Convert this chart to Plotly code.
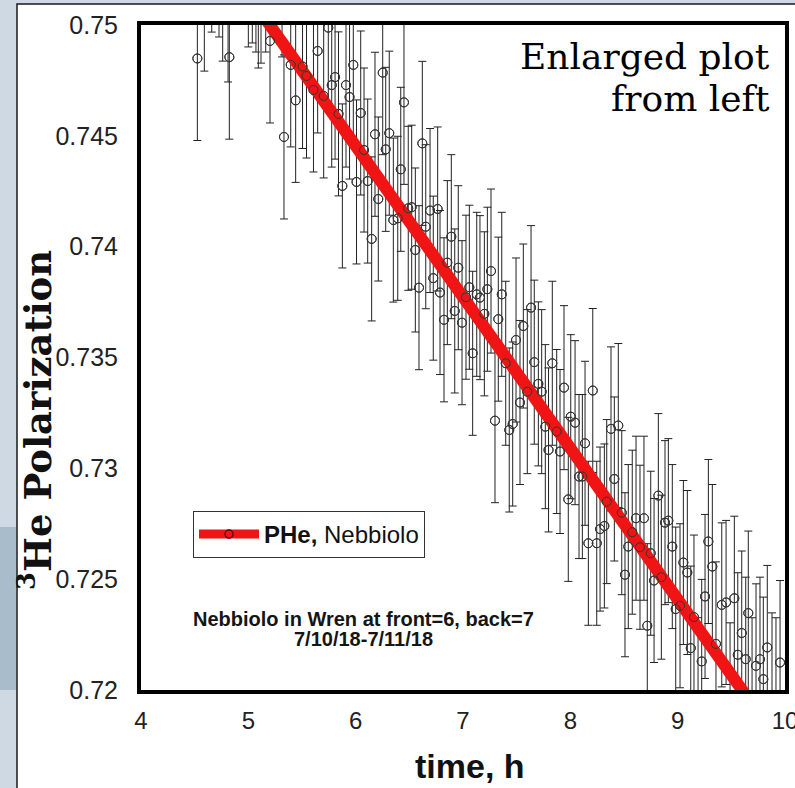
import plotly.graph_objects as go

# ---- data ----
time_h = [4.525, 4.590, 4.659, 4.727, 4.761, 4.811, 4.823, 5.000, 5.037, 5.071,
          5.093, 5.118, 5.162, 5.202, 5.314, 5.332, 5.395, 5.441, 5.505, 5.542,
          5.607, 5.646, 5.702, 5.745, 5.777, 5.808, 5.840, 5.876, 5.910, 5.943,
          5.978, 6.008, 6.047, 6.078, 6.112, 6.149, 6.180, 6.211, 6.252, 6.280,
          6.313, 6.351, 6.392, 6.420, 6.450, 6.490, 6.522, 6.556, 6.590, 6.621,
          6.653, 6.693, 6.723, 6.764, 6.786, 6.823, 6.854, 6.891, 6.923, 6.956,
          6.991, 7.028, 7.059, 7.090, 7.128, 7.158, 7.199, 7.227, 7.261, 7.298,
          7.329, 7.361, 7.398, 7.431, 7.463, 7.494, 7.531, 7.562, 7.599, 7.634,
          7.664, 7.702, 7.733, 7.767, 7.797, 7.832, 7.873, 7.904, 7.941, 7.981,
          8.004, 8.044, 8.081, 8.112, 8.137, 8.168, 8.209, 8.246, 8.277, 8.317,
          8.339, 8.379, 8.410, 8.447, 8.479, 8.509, 8.540, 8.577, 8.612, 8.649,
          8.686, 8.717, 8.749, 8.780, 8.820, 8.848, 8.882, 8.913, 8.950, 8.982,
          9.022, 9.053, 9.090, 9.122, 9.152, 9.190, 9.224, 9.255, 9.286, 9.323,
          9.357, 9.411, 9.451, 9.488, 9.528, 9.560, 9.597, 9.634, 9.658, 9.693,
          9.730, 9.767, 9.798, 9.835, 9.879, 9.916, 9.954]

polarization = [0.74849, 0.75162, 0.75338, 0.75316, 0.75207, 0.75113, 0.74855, 0.75271, 0.75289, 0.75248,
                0.75176, 0.75198, 0.75248, 0.74928, 0.75226, 0.74495, 0.74820, 0.74660, 0.74813, 0.74770,
                0.74707, 0.74883, 0.74680, 0.74988, 0.74729, 0.74765, 0.74599, 0.74274, 0.74729, 0.74675,
                0.74820, 0.74292, 0.74603, 0.74436, 0.74296, 0.74035, 0.74507, 0.74215, 0.74785, 0.74439,
                0.74512, 0.74120, 0.74128, 0.74349, 0.74651, 0.74173, 0.74178, 0.73985, 0.73815, 0.74466,
                0.74090, 0.74163, 0.73858, 0.74170, 0.73793, 0.73670, 0.73928, 0.74045, 0.73710, 0.73905,
                0.73657, 0.73772, 0.73817, 0.73519, 0.73785, 0.73770, 0.73697, 0.73808, 0.73890, 0.73215,
                0.73673, 0.73785, 0.73474, 0.73173, 0.73200, 0.73579, 0.73297, 0.73642, 0.73346, 0.73725,
                0.73479, 0.73381, 0.73346, 0.73188, 0.73083, 0.73474, 0.73166, 0.73076, 0.73364, 0.72860,
                0.73233, 0.73206, 0.72963, 0.72963, 0.73113, 0.72662, 0.73351, 0.72662, 0.72726, 0.72740,
                0.72850, 0.73178, 0.72952, 0.73193, 0.72800, 0.72520, 0.72647, 0.72712, 0.72775, 0.72644,
                0.72775, 0.72290, 0.72617, 0.72494, 0.72877, 0.72509, 0.72755, 0.72764, 0.72647, 0.72365,
                0.72380, 0.72575, 0.72530, 0.72189, 0.72329, 0.71956, 0.72129, 0.72422, 0.72670, 0.72557,
                0.72208, 0.72384, 0.72395, 0.71933, 0.72414, 0.72159, 0.72257, 0.72139, 0.72347, 0.71956,
                0.72109, 0.72139, 0.72049, 0.72192, 0.71978, 0.71956, 0.72124]

pol_error = 0.0037

fit_time = [4.9, 9.9]
fit_pol = [0.752045, 0.717955]

x_ticks = [4, 5, 6, 7, 8, 9, 10]
x_labels = ["4", "5", "6", "7", "8", "9", "10"]
y_ticks = [0.72, 0.725, 0.73, 0.735, 0.74, 0.745, 0.75]
y_labels = ["0.72", "0.725", "0.73", "0.735", "0.74", "0.745", "0.75"]

series_name = "<b>PHe,</b> Nebbiolo"
note_line1 = "Nebbiolo in Wren at front=6, back=7"
note_line2 = "7/10/18-7/11/18"

SANS = "Liberation Sans, Arial, sans-serif"
SERIF = "DejaVu Serif, serif"

fig = go.Figure()

# error bars + circles
fig.add_trace(go.Scatter(
    x=time_h, y=polarization, mode="markers", showlegend=False,
    marker=dict(symbol="circle-open", size=9, color="#333333", line=dict(width=1, color="#333333")),
    error_y=dict(type="constant", value=pol_error, color="#222222", thickness=1, width=4),
))

# fit line
fig.add_trace(go.Scatter(
    x=fit_time, y=fit_pol, mode="lines", showlegend=False,
    line=dict(color="#f01414", width=12),
))

# circles on top of the fit
fig.add_trace(go.Scatter(
    x=time_h, y=polarization, mode="markers", showlegend=False,
    marker=dict(symbol="circle-open", size=9, color="#333333", line=dict(width=1, color="#333333")),
))

# legend entry
fig.add_trace(go.Scatter(
    x=[None], y=[None], mode="lines+markers", name=series_name,
    line=dict(color="#f01414", width=9),
    marker=dict(symbol="circle-open", size=8, color="#6a0000", line=dict(width=1.5, color="#6a0000")),
))

# paper coordinates helpers (plot area: x 141..785 px, y 25..690 px)
def px(xp):
    return (xp - 141) / 644.0

def py(yp):
    return (690 - yp) / 665.0

shapes = [
    dict(type="rect", xref="paper", yref="paper", x0=px(17), x1=px(820), y0=py(820), y1=py(4),
         fillcolor="white", line=dict(color="#1a1a1a", width=1.5), layer="below"),
    dict(type="rect", xref="paper", yref="paper", x0=px(-20), x1=px(16), y0=py(690), y1=py(527),
         fillcolor="#a9bccb", line=dict(width=0), layer="below"),
]

annotations = [
    dict(text="Enlarged plot", xref="paper", yref="paper", x=px(772), y=py(57),
         xanchor="right", yanchor="middle", showarrow=False,
         font=dict(family=SERIF, size=36, color="#000000")),
    dict(text="from left", xref="paper", yref="paper", x=px(772), y=py(99),
         xanchor="right", yanchor="middle", showarrow=False,
         font=dict(family=SERIF, size=36, color="#000000")),
    dict(text="<b>" + note_line1 + "</b>", xref="paper", yref="paper", x=px(363), y=py(619),
         xanchor="center", yanchor="middle", showarrow=False,
         font=dict(family=SANS, size=20, color="#151515")),
    dict(text="<b>" + note_line2 + "</b>", xref="paper", yref="paper", x=px(363), y=py(639),
         xanchor="center", yanchor="middle", showarrow=False,
         font=dict(family=SANS, size=20, color="#151515")),
    dict(text="<b><sup>3</sup>He Polarization</b>", xref="paper", yref="paper", x=px(35), y=py(420),
         xanchor="center", yanchor="middle", textangle=-90, showarrow=False,
         font=dict(family=SERIF, size=37, color="#111111")),
    dict(text="<b>time, h</b>", xref="paper", yref="paper", x=px(470), y=py(766),
         xanchor="center", yanchor="middle", showarrow=False,
         font=dict(family=SANS, size=34, color="#111111")),
]

fig.update_layout(
    width=795, height=788, autosize=False,
    margin=dict(l=141, r=10, t=25, b=98, pad=0, autoexpand=False),
    paper_bgcolor="#cfd9e4", plot_bgcolor="white",
    shapes=shapes, annotations=annotations,
    showlegend=True,
    legend=dict(x=px(193), y=py(511), xanchor="left", yanchor="top",
                bgcolor="white", bordercolor="#333333", borderwidth=1,
                font=dict(family=SANS, size=24, color="#111111"), itemwidth=60),
    xaxis=dict(range=[4, 10], tickvals=x_ticks, ticktext=x_labels, showgrid=False, zeroline=False,
               showline=True, linewidth=4, linecolor="black", mirror=True, ticks="", automargin=False,
               ticklabeloverflow="allow",
               tickfont=dict(family=SANS, size=24, color="#222222"), ticklabelstandoff=6),
    yaxis=dict(range=[0.72, 0.75], tickvals=y_ticks, ticktext=y_labels, showgrid=False, zeroline=False,
               showline=True, linewidth=4, linecolor="black", mirror=True, ticks="", automargin=False,
               ticklabeloverflow="allow",
               tickfont=dict(family=SANS, size=25, color="#222222"), ticklabelstandoff=14),
)

fig.write_html(
    "out.html",
    config={"responsive": False, "displayModeBar": False},
    post_script="document.body.style.margin='0';document.body.style.overflow='hidden';",
)
